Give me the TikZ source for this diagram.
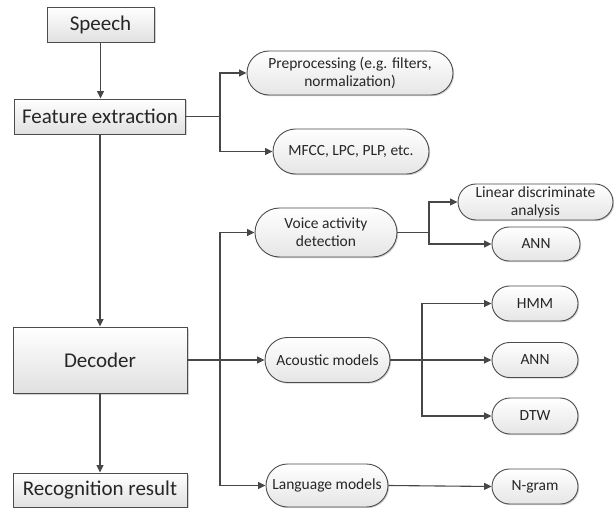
\documentclass[tikz,border=0pt]{standalone}
\usepackage{fontspec}
\setmainfont{Carlito}
\usetikzlibrary{arrows.meta,shadows,shapes.misc}
\begin{document}
\begin{tikzpicture}[x=1pt,y=-1pt,
  line width=1.1pt,
  every node/.style={inner sep=0pt, align=center, text=black!85},
  stagebox/.style={draw=black!70, line width=0.9pt, top color=white, bottom color=black!12,
    drop shadow={shadow xshift=1.5pt, shadow yshift=-1.5pt, fill=black!35, opacity=0.5},
    font=\fontsize{21}{23}\selectfont},
  pill/.style={draw=black!70, line width=0.9pt, rounded rectangle, top color=white, bottom color=black!10,
    drop shadow={shadow xshift=1.2pt, shadow yshift=-1.2pt, fill=black!35, opacity=0.5},
    font=\fontsize{15.5}{18}\selectfont},
  link/.style={draw=black!72, line width=1.1pt, -{Triangle[length=7.5pt,width=7pt]}},
  wire/.style={draw=black!72, line width=1.1pt}]
\useasboundingbox (0,0) rectangle (614,508);

% main pipeline
\node[stagebox, minimum width=107pt, minimum height=35pt] (speech) at (100.5,24.5) {Speech};
\node[stagebox, minimum width=171pt, minimum height=35pt] (feat) at (100,116.5) {Feature extraction};
\node[stagebox, minimum width=174pt, minimum height=66pt] (dec) at (100,360) {Decoder};
\node[stagebox, minimum width=174pt, minimum height=34pt] (rec) at (100,490) {Recognition result};

% feature extraction branches
\node[pill, minimum width=206pt, minimum height=44pt] (pre) at (350,73) {Preprocessing (e.g. filters,\\normalization)};
\node[pill, minimum width=156pt, minimum height=45pt] (mfcc) at (351,151.5) {MFCC, LPC, PLP, etc.};

% decoder branches
\node[pill, minimum width=142pt, minimum height=49pt] (vad) at (326,232.5) {Voice activity\\detection};
\node[pill, minimum width=125pt, minimum height=45pt] (ac) at (327.5,360) {Acoustic models};
\node[pill, minimum width=122pt, minimum height=43pt] (lm) at (327,485.5) {Language models};

% leaves
\node[pill, minimum width=155pt, minimum height=36pt] (lda) at (535.5,202) {Linear discriminate\\analysis};
\node[pill, minimum width=88pt, minimum height=34pt] (ann1) at (536,244) {ANN};
\node[pill, minimum width=86pt, minimum height=35pt] (hmm) at (535,303.5) {HMM};
\node[pill, minimum width=86pt, minimum height=35pt] (ann2) at (535,360) {ANN};
\node[pill, minimum width=86pt, minimum height=36pt] (dtw) at (535,416) {DTW};
\node[pill, minimum width=86pt, minimum height=35pt] (ngram) at (535,486.5) {N-gram};

% junction points
\coordinate (jf) at (220,116.5);
\coordinate (jd) at (220,360);
\coordinate (jv) at (429,232.5);
\coordinate (ja) at (422,360);

% connectors
\draw[link] (speech.south) -- (speech.south |- feat.north);
\draw[link] (feat.south) -- (feat.south |- dec.north);
\draw[link] (dec.south) -- (dec.south |- rec.north);

\draw[wire] (feat.east) -- (jf);
\draw[link] (jf) |- (pre.west);
\draw[link] (jf) |- (mfcc.west);

\draw[wire] (dec.east) -- (jd);
\draw[link] (jd) |- (vad.west);
\draw[link] (jd) -- (ac.west);
\draw[link] (jd) |- (lm.west);

\draw[wire] (vad.east) -- (jv);
\draw[link] (jv) |- (lda.west);
\draw[link] (jv) |- (ann1.west);

\draw[wire] (ac.east) -- (ja);
\draw[link] (ja) |- (hmm.west);
\draw[link] (ja) -- (ann2.west);
\draw[link] (ja) |- (dtw.west);

\draw[link] (lm.east) -- (ngram.west);
\end{tikzpicture}
\end{document}
